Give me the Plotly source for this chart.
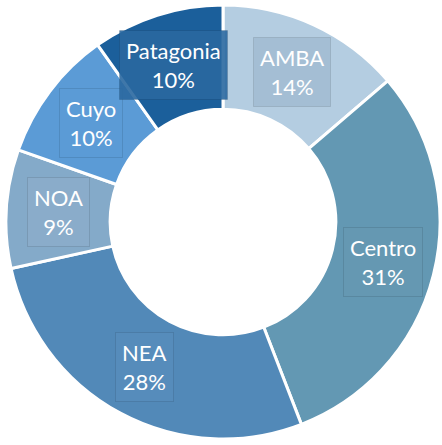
import math
import plotly.graph_objects as go

# Regional shares (%), clockwise from 12 o'clock
regions = ["AMBA", "Centro", "NEA", "NOA", "Cuyo", "Patagonia"]
shares = [14, 31, 28, 9, 10, 10]
slice_colors = ["#b4cde1", "#6398b3", "#5289b8", "#84aac9", "#5b9bd6", "#1b5f9b"]
box_colors = ["rgba(163,189,211,0.95)", "rgba(101,152,178,0.95)", "rgba(86,140,186,0.95)",
              "rgba(138,172,202,0.95)", "rgba(92,155,214,0.95)", "rgba(42,104,160,0.9)"]

W, H = 442, 445
margin = dict(l=6, r=2, t=4, b=5)
pw = W - margin["l"] - margin["r"]
ph = H - margin["t"] - margin["b"]
outer = min(pw, ph) / 2
hole = 0.52

fig = go.Figure(go.Pie(
    labels=regions,
    values=shares,
    sort=False,
    direction="clockwise",
    rotation=0,
    hole=hole,
    marker=dict(colors=slice_colors, line=dict(color="white", width=3)),
    textinfo="none",
    hoverinfo="label+value",
    showlegend=False,
))

# Label boxes placed at the middle of each ring segment
total = sum(shares)
label_r = outer * (1 + hole) / 2
cum = 0
for name, val, bg in zip(regions, shares, box_colors):
    mid = (cum + val / 2) / total * 2 * math.pi
    cum += val
    x = 0.5 + label_r * math.sin(mid) / pw
    y = 0.5 + label_r * math.cos(mid) / ph
    fig.add_annotation(
        x=x, y=y, xref="paper", yref="paper",
        text=f"{name}<br>{val}%",
        showarrow=False,
        font=dict(family="Lato, Open Sans, sans-serif", size=22, color="white"),
        bgcolor=bg,
        bordercolor="rgba(0,0,0,0.10)",
        borderwidth=1,
        borderpad=6,
        xanchor="center", yanchor="middle",
    )

fig.update_layout(
    width=W, height=H,
    margin=margin,
    paper_bgcolor="white",
    plot_bgcolor="white",
)

fig.write_html("out.html")
